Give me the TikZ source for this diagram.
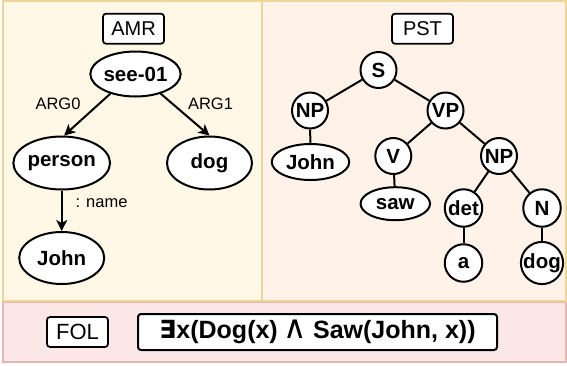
\documentclass[tikz,border=0pt]{standalone}
\usepackage{fontspec}
\setmainfont{Liberation Sans}
\newfontfamily\symfont{DejaVu Sans}
\usetikzlibrary{arrows.meta,shapes.geometric}
\definecolor{amrfill}{HTML}{FFF8E7}
\definecolor{pstfill}{HTML}{FFF3E9}
\definecolor{folfill}{HTML}{FCE7E7}
\definecolor{goldline}{HTML}{EDD596}
\definecolor{pinkline}{HTML}{E6B6B4}
\begin{document}
\begin{tikzpicture}[x=1pt,y=-1pt,
  nodefont/.style={font=\fontsize{20.5}{24}\selectfont\bfseries},
  ell/.style={ellipse, draw, line width=2pt, fill=white, inner sep=0pt, nodefont},
  circ/.style={circle, draw, line width=2pt, fill=white, inner sep=0pt, minimum size=36pt, nodefont},
  bigcirc/.style={circ, minimum size=37.5pt},
  titlebox/.style={rectangle, rounded corners=3pt, draw, line width=1.7pt, fill=white,
    minimum width=61pt, minimum height=30pt, inner sep=0pt, font=\fontsize{20}{24}\selectfont},
  edgelabel/.style={inner sep=0pt, font=\fontsize{16.5}{20}\selectfont},
  arr/.style={line width=2pt, -{Stealth[length=11pt,width=11pt,inset=3pt]}},
  treeline/.style={line width=2pt}]
\path[use as bounding box] (0,0) rectangle (567,365);
% panels
\draw[goldline, fill=amrfill, line width=1.8pt] (3,1) rectangle (262,301);
\draw[goldline, fill=pstfill, line width=1.8pt] (262,1) rectangle (566,301);
\draw[pinkline, fill=folfill, line width=1.5pt] (3,302.5) rectangle (566,362);
% AMR
\node[titlebox] (amrt) at (133.5,28.7) {AMR};
\node[ell, minimum width=85.5pt, minimum height=45pt] (see) at (135.5,74) {see-01};
\node[ell, minimum width=85pt, minimum height=53pt] (person) at (61.7,163) {person};
\node[ell, minimum width=85pt, minimum height=53pt] (adog) at (209.5,163) {dog};
\node[ell, minimum width=85pt, minimum height=52pt] (ajohn) at (61.7,258) {John};
\draw[arr] (see.218) -- (person.85);
\draw[arr] (see.-38) -- (adog.north);
\draw[arr] (person.south) -- (ajohn.north);
\node[edgelabel] (l0) at (58,104) {ARG0};
\node[edgelabel] (l1) at (210.5,104) {ARG1};
\node[edgelabel] (l2) at (101.5,203) {: name};
% PST
\node[titlebox] (pstt) at (422.5,28.7) {PST};
\node[circ] (s) at (378.5,70) {S};
\node[circ] (np1) at (310,110.5) {NP};
\node[circ] (vp) at (445.5,110.5) {VP};
\node[ell, minimum width=77.5pt, minimum height=36pt] (pjohn) at (310.5,162) {John};
\node[circ] (v) at (393.3,156) {V};
\node[circ] (np2) at (499,156) {NP};
\node[ell, minimum width=69.5pt, minimum height=33pt] (saw) at (395.3,203.7) {saw};
\node[bigcirc] (det) at (463.5,208) {det};
\node[bigcirc] (n) at (542,208) {N};
\node[bigcirc] (a) at (463.5,263) {a};
\node[bigcirc] (pdog) at (542,263) {dog};
\draw[treeline] (s) -- (np1);
\draw[treeline] (s) -- (vp);
\draw[treeline] (np1) -- (pjohn);
\draw[treeline] (vp) -- (v);
\draw[treeline] (vp) -- (np2);
\draw[treeline] (v) -- (saw);
\draw[treeline] (np2) -- (det);
\draw[treeline] (np2) -- (n);
\draw[treeline] (det) -- (a);
\draw[treeline] (n) -- (pdog);
% FOL
\node[titlebox, font=\fontsize{22}{26}\selectfont] (folt) at (77.5,332) {FOL};
\node[rectangle, rounded corners=3pt, draw, line width=2pt, fill=white,
  minimum width=359pt, minimum height=36pt, inner sep=0pt,
  font=\fontsize{25}{30}\selectfont\bfseries] (formula) at (317.5,332)
  {{\symfont ∃}x(Dog(x)\hspace{-1pt} {\symfont\mdseries\fontsize{32}{30}\selectfont ∧}\hspace{-1pt} Saw(John, x))};
\end{tikzpicture}
\end{document}
